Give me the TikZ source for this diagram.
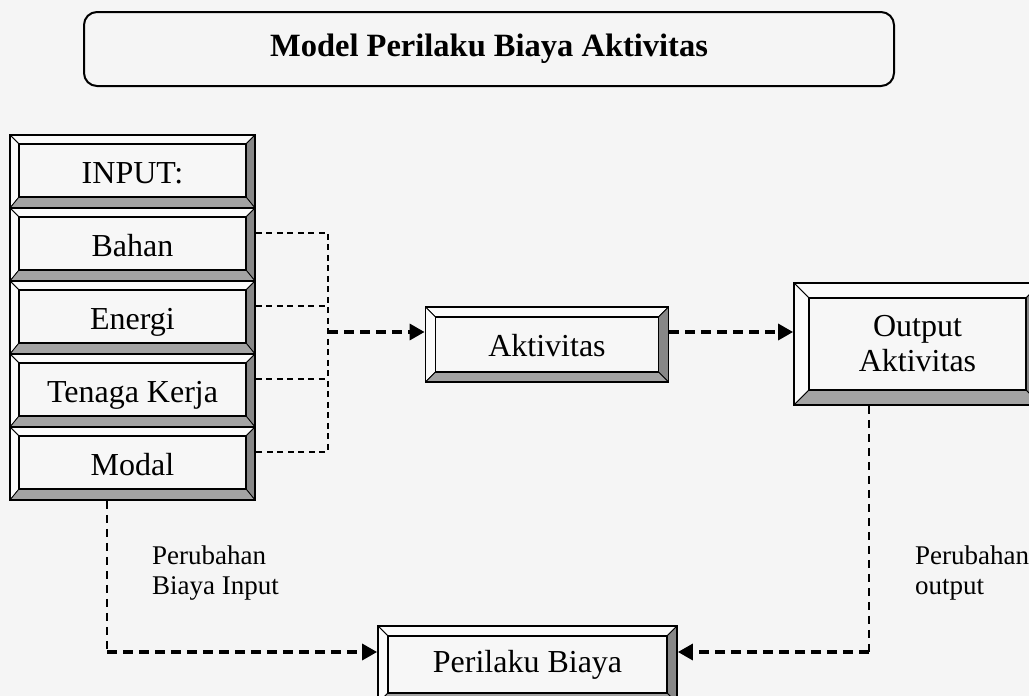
\documentclass[tikz,border=0pt]{standalone}
\usepackage{fontspec}
\setmainfont{Liberation Serif}
\usetikzlibrary{arrows.meta,calc}
\definecolor{bgc}{HTML}{F5F5F5}
\definecolor{facec}{HTML}{F7F7F7}
\definecolor{lightc}{HTML}{FBFBFB}
\definecolor{rightc}{HTML}{878787}
\definecolor{botc}{HTML}{A3A3A3}
\tikzset{
  bvA/.store in=\bvA, bvB/.store in=\bvB, bvA=9, bvB=10,
  bevel/.style={rectangle, draw=black, line width=1.8pt, fill=facec, inner sep=0pt,
    path picture={
      \coordinate (bvSW) at (path picture bounding box.south west);
      \coordinate (bvNE) at (path picture bounding box.north east);
      \coordinate (bvSE) at (bvSW -| bvNE);
      \coordinate (bvNW) at (bvSW |- bvNE);
      \coordinate (bviSW) at ($(bvSW)+(\bvA pt,\bvB pt)$);
      \coordinate (bviNE) at ($(bvNE)+(-\bvA pt,-\bvA pt)$);
      \coordinate (bviSE) at (bviSW -| bviNE);
      \coordinate (bviNW) at (bviSW |- bviNE);
      \filldraw[fill=lightc, line width=0.8pt] (bvNW) -- (bvNE) -- (bviNE) -- (bviNW) -- cycle;
      \filldraw[fill=lightc, line width=0.8pt] (bvSW) -- (bvNW) -- (bviNW) -- (bviSW) -- cycle;
      \filldraw[fill=rightc, line width=0.8pt] (bvNE) -- (bvSE) -- (bviSE) -- (bviNE) -- cycle;
      \filldraw[fill=botc, line width=0.8pt] (bvSW) -- (bvSE) -- (bviSE) -- (bviSW) -- cycle;
      \draw[line width=1.4pt] (bviSW) rectangle (bviNE);
    }},
  boxtext/.style={font=\fontsize{32}{35}\selectfont, text height=24pt, text depth=0pt},
  stackbox/.style={bevel, boxtext, bvA=9, bvB=11, minimum width=245pt, minimum height=73pt},
  titlebox/.style={draw=black, line width=2pt, rounded corners=13pt, minimum width=810pt,
    minimum height=74pt, font=\fontsize{32.5}{35}\selectfont\bfseries},
  labeltext/.style={font=\fontsize{27}{30}\selectfont, align=left, inner sep=0pt, anchor=north west},
  thindash/.style={line width=2pt, dash pattern=on 6pt off 4.5pt},
  lowdash/.style={line width=2pt, dash pattern=on 8pt off 6pt},
  thickarrow/.style={line width=3.3pt, dash pattern=on 10pt off 6pt,
    -{Triangle[length=15pt,width=16pt]}},
}
\begin{document}
\begin{tikzpicture}[x=1pt,y=-1pt]
\clip (0,0) rectangle (1029,696);
\fill[bgc] (0,0) rectangle (1029,696);
\useasboundingbox (0,0) rectangle (1029,696);

\node[titlebox] (title) at (489,49) {Model Perilaku Biaya Aktivitas};

\node[stackbox] (input) at (132.5,171.5) {INPUT:};
\node[stackbox] (bahan) at (132.5,244.5) {Bahan};
\node[stackbox] (energi) at (132.5,317.5) {Energi};
\node[stackbox] (tenaga) at (132.5,390.5) {Tenaga Kerja};
\node[stackbox] (modal) at (132.5,463.5) {Modal};

\node[bevel, boxtext, bvA=10, bvB=10, minimum width=243pt, minimum height=75pt] (akt) at (547,344.5) {Aktivitas};
\node[bevel, bvA=15, bvB=15, minimum width=247pt, minimum height=122pt, align=center,
  font=\fontsize{32}{35}\selectfont] (out) at (917.5,344) {Output\\Aktivitas};
\node[bevel, bvA=10, bvB=10, minimum width=299pt, minimum height=77pt,
  font=\fontsize{32}{35}\selectfont] (pb) at (527.5,664.5) {Perilaku Biaya};

\node[labeltext] (lab1) at (152,545.6) {Perubahan\\Biaya Input};
\node[labeltext] (lab2) at (915,545.6) {Perubahan\\output};

\coordinate (vt) at (328,232.5);
\coordinate (vb) at (328,451.5);
\coordinate (j) at (328,332);
\coordinate (c1) at (107,652);
\coordinate (c2) at (869,652);

\draw[thindash] ([yshift=12pt]bahan.east) -- (vt) -- (vb) -- ([yshift=12pt]modal.east);
\draw[thindash] ([yshift=12pt]energi.east) -- +(73,0);
\draw[thindash] ([yshift=12pt]tenaga.east) -- +(73,0);
\draw[thickarrow] (j) -- (akt.west |- j);
\draw[thickarrow] (akt.east |- j) -- (out.west |- j);
\draw[lowdash] (modal.south -| c1) -- (c1);
\draw[thickarrow] (c1) -- (pb.west |- c1);
\draw[lowdash] (out.south -| c2) -- (c2);
\draw[thickarrow] (c2) -- (pb.east |- c2);
\end{tikzpicture}
\end{document}
